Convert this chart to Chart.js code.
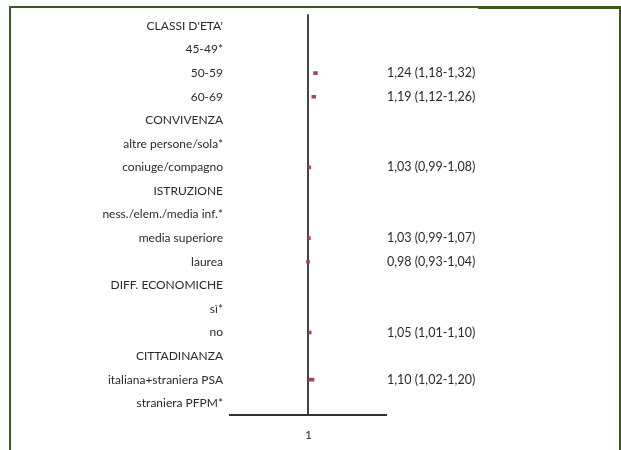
<!DOCTYPE html>
<html>
<head>
<meta charset="utf-8">
<script src="https://cdn.jsdelivr.net/npm/chart.js@4/dist/chart.umd.min.js"></script>
<style>
  html, body { margin: 0; padding: 0; background: #ffffff; }
  #wrap { position: relative; width: 621px; height: 450px; overflow: hidden; }
  #c { position: absolute; left: 0; top: 0; }
  .frame { position: absolute; left: 9px; top: 6px; width: 608px; height: 500px;
           border-left: 2px solid #3a5a22; border-top: 2px solid #3a5a22; border-right: 2px solid #3a5a22;
           pointer-events: none; }
  .frame2 { position: absolute; left: 478px; top: 6px; width: 143px; height: 3px; background: #3a5a22; pointer-events: none; }
</style>
</head>
<body>
<div id="wrap">
  <canvas id="c" width="621" height="450"></canvas>
  <div class="frame"></div>
  <div class="frame2"></div>
</div>
<script>
const categories = ["CLASSI D'ETA'", "45-49*", "50-59", "60-69", "CONVIVENZA", "altre persone/sola*",
  "coniuge/compagno", "ISTRUZIONE", "ness./elem./media inf.*", "media superiore", "laurea",
  "DIFF. ECONOMICHE", "sì*", "no", "CITTADINANZA", "italiana+straniera PSA", "straniera PFPM*"];
const oddsRatio = [null, null, 1.24, 1.19, null, null, 1.03, null, null, 1.03, 0.98, null, null, 1.05, null, 1.10, null];
const ciLower   = [null, null, 1.18, 1.12, null, null, 0.99, null, null, 0.99, 0.93, null, null, 1.01, null, 1.02, null];
const ciUpper   = [null, null, 1.32, 1.26, null, null, 1.08, null, null, 1.07, 1.04, null, null, 1.10, null, 1.20, null];
const xTickValues = [1];

const fmt = v => v.toFixed(2).replace('.', ',');
const orText = oddsRatio.map((v, i) => v === null ? '' : fmt(v) + ' (' + fmt(ciLower[i]) + '-' + fmt(ciUpper[i]) + ')');
const ciBars = ciLower.map((lo, i) => lo === null ? null : [lo, ciUpper[i]]);

const FONT = { family: 'Lato, "Open Sans", sans-serif', size: 12 };
const FONT_OR = { family: 'Lato, "Open Sans", sans-serif', size: 12.5 };

new Chart(document.getElementById('c'), {
  type: 'bar',
  data: {
    labels: categories,
    datasets: [{
      data: ciBars,
      backgroundColor: '#b03c78',
      borderWidth: 0,
      barThickness: 3,
      yAxisID: 'y'
    }]
  },
  options: {
    indexAxis: 'y',
    responsive: false,
    animation: false,
    devicePixelRatio: 1,
    layout: { padding: { top: 7, left: 0, right: 0, bottom: 0 } },
    plugins: { legend: { display: false }, tooltip: { enabled: false } },
    scales: {
      x: {
        type: 'linear',
        min: -1.8,
        max: 3.77,
        afterBuildTicks: s => { s.ticks = xTickValues.map(v => ({ value: v })); },
        afterFit: s => { s.height = 35; },
        grid: { display: true, drawTicks: false, color: '#444444', lineWidth: 2 },
        border: { display: true, color: '#333333', width: 2 },
        ticks: { font: FONT, color: '#2b2b2b', padding: 13, callback: v => String(v) }
      },
      y: {
        type: 'category',
        position: 'left',
        offset: true,
        afterFit: s => { s.width = 230; },
        grid: { display: false, drawTicks: false },
        border: { display: false },
        ticks: { font: FONT, color: '#2b2b2b', padding: 7, autoSkip: false }
      },
      y2: {
        type: 'category',
        position: 'right',
        labels: orText,
        offset: true,
        afterFit: s => { s.width = 235; },
        grid: { display: false, drawTicks: false },
        border: { display: false },
        ticks: { font: FONT_OR, color: '#2b2b2b', padding: 1, autoSkip: false }
      }
    }
  }
});
</script>
</body>
</html>
